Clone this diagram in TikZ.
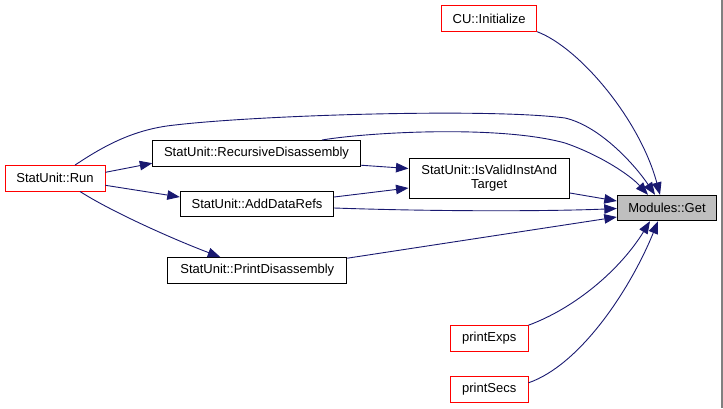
\documentclass[tikz,border=0pt]{standalone}
\usepackage{fontspec}
\setmainfont{Liberation Sans}
\usepackage{tikz}
\usetikzlibrary{calc,arrows.meta}
\usepackage{xcolor}
\definecolor{edgeblue}{HTML}{191970}
\definecolor{getgray}{HTML}{BFBFBF}

\begin{document}
\begin{tikzpicture}[x=1pt, y=-1pt,
    fn/.style = {draw=black, line width=0.9pt, fill=white, inner sep=0pt, minimum height=25.5pt,
                 font=\fontsize{13}{14}\selectfont, align=center},
    ext/.style = {fn, draw=red},
    call/.style = {draw=edgeblue, line width=0.9pt, -{Triangle[length=12.5pt,width=9.5pt]}}]

\useasboundingbox (0,0) rectangle (723,408);
\fill[gray] (721,0) rectangle (723,408);

\node[ext, minimum width=100pt] (run) at (55,178.3) {StatUnit::Run};
\node[fn, minimum width=207.5pt] (recdis) at (256.5,153.2) {StatUnit::RecursiveDisassembly};
\node[fn, minimum width=153.5pt] (adddata) at (257,204) {StatUnit::AddDataRefs};
\node[fn, minimum width=179pt] (printdis) at (257.3,270.2) {StatUnit::PrintDisassembly};
\node[ext, minimum width=95pt] (cuinit) at (489.2,18.5) {CU::Initialize};
\node[fn, minimum width=160.5pt, minimum height=39.6pt] (isvalid) at (489.2,178.5) {StatUnit::IsValidInstAnd\\Target};
\node[fn, fill=getgray, minimum width=99.5pt] (get) at (667,208) {Modules::Get};
\node[ext, minimum width=77.7pt] (printexps) at (489.2,338.4) {printExps};
\node[ext, minimum width=77.7pt] (printsecs) at (489.2,389.3) {printSecs};

% calls out of StatUnit::Run
\draw[call] ([yshift=6pt]run.east) -- ([yshift=-10pt]recdis.west);
\draw[call] ([yshift=-7pt]run.east) -- ([yshift=7pt]adddata.west);
\draw[call] ([xshift=25pt]run.south) .. controls (112,212) and (175,240) .. ([xshift=-37pt]printdis.north);
\draw[call] ([xshift=20pt]run.north) .. controls (105,145) and (135,129) .. (175,125)
    .. controls (260,115) and (490,108) .. (565,118)
    .. controls (600,126) and (635,165) .. ([xshift=-12pt]get.north);

% the rest into Modules::Get
\draw[call] ([xshift=65.5pt]recdis.north) .. controls (370,132) and (500,125) .. (565,143)
    .. controls (600,155) and (630,175) .. ([xshift=-19pt]get.north);
\draw[call] ([yshift=-12pt]recdis.east) -- ([yshift=10pt]isvalid.west);
\draw[call] ([yshift=7pt]adddata.east) -- ([yshift=-9.5pt]isvalid.west);
\draw[call] ([yshift=-4pt]adddata.east) .. controls (450,212) and (560,211) .. ([yshift=-0.5pt]get.west);
\draw[call] ([yshift=-14.5pt]isvalid.east) -- ([yshift=7pt]get.west);
\draw[call] ([yshift=12pt]printdis.east) -- ([yshift=-9pt]get.west);
\draw[call] (cuinit.south east) .. controls (580,48) and (640,120) .. ([xshift=-7pt]get.north);
\draw[call] (printexps.north east) .. controls (575,308) and (620,270) .. ([xshift=-17pt]get.south);
\draw[call] ([yshift=6.5pt]printsecs.east) .. controls (580,365) and (630,290) .. ([xshift=-9pt]get.south);

\end{tikzpicture}
\end{document}
